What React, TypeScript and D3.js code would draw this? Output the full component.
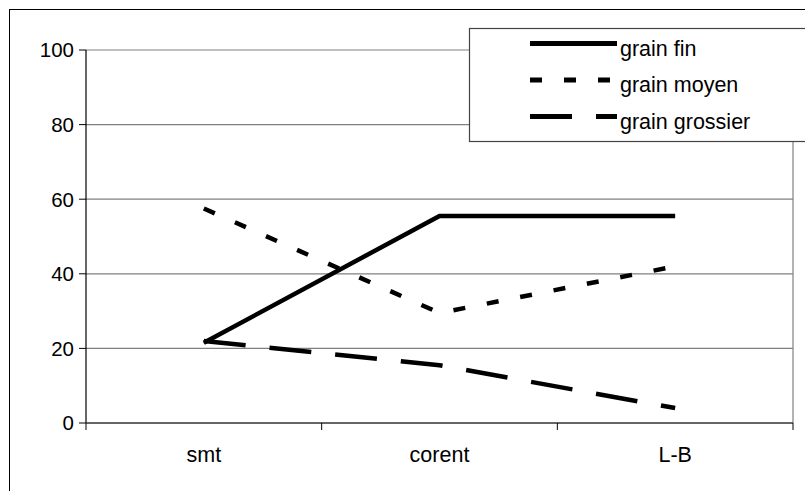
import React from "react";
import * as d3 from "d3";

const categories = ["smt", "corent", "L-B"];
const seriesNames = ["grain fin", "grain moyen", "grain grossier"];
const grainFin = [21.5, 55.5, 55.5];
const grainMoyen = [57.5, 29.5, 42];
const grainGrossier = [22, 15.5, 4];
const yTicks = [0, 20, 40, 60, 80, 100];

const W = 805;
const H = 491;
const plot = { left: 86, right: 793, top: 50, bottom: 423 };
const font = "'Liberation Sans', Arial, sans-serif";

// dash styles per series
const dashes = ["none", "12 22", "42 24"];

const App = () => {
  const x = d3
    .scaleBand()
    .domain(categories)
    .range([plot.left, plot.right]);
  const y = d3.scaleLinear().domain([0, 100]).range([plot.bottom, plot.top]);

  const series = [grainFin, grainMoyen, grainGrossier];
  const line = d3
    .line<number>()
    .x((_, i) => (x(categories[i]) as number) + x.bandwidth() / 2)
    .y((d) => y(d));

  // category boundaries for x ticks
  const xTickPos = [...categories.map((c) => x(c) as number), plot.right];

  return (
    <svg
      width={W}
      height={H}
      style={{ position: "absolute", left: 0, top: 0, background: "#fff" }}
    >
      {/* outer frame */}
      <rect x={9.5} y={9.5} width={W} height={H} fill="#fff" stroke="#000" strokeWidth={1} />

      {/* grid */}
      {yTicks.slice(1).map((t) => (
        <line key={t} x1={plot.left} x2={plot.right} y1={y(t)} y2={y(t)} stroke="#808080" strokeWidth={1.2} />
      ))}
      <line x1={plot.right} x2={plot.right} y1={plot.top} y2={plot.bottom} stroke="#808080" strokeWidth={1.2} />

      {/* y axis */}
      <line x1={plot.left} x2={plot.left} y1={plot.top} y2={plot.bottom} stroke="#000" strokeWidth={1.2} />
      {yTicks.map((t) => (
        <g key={t}>
          <line x1={plot.left - 7} x2={plot.left} y1={y(t)} y2={y(t)} stroke="#000" />
          <text x={plot.left - 12} y={y(t)} dy="0.36em" textAnchor="end" fontFamily={font} fontSize={20.5} fill="#000">
            {t}
          </text>
        </g>
      ))}

      {/* x axis */}
      <line x1={plot.left} x2={plot.right} y1={plot.bottom} y2={plot.bottom} stroke="#333" strokeWidth={1.5} />
      {xTickPos.map((p, i) => (
        <line key={i} x1={p} x2={p} y1={plot.bottom} y2={plot.bottom + 7} stroke="#000" />
      ))}
      {categories.map((c) => (
        <text
          key={c}
          x={(x(c) as number) + x.bandwidth() / 2}
          y={plot.bottom + 39}
          textAnchor="middle"
          fontFamily={font}
          fontSize={21.5}
          fill="#000"
        >
          {c}
        </text>
      ))}

      {/* series */}
      {series.map((s, i) => (
        <path
          key={seriesNames[i]}
          d={line(s) || ""}
          fill="none"
          stroke="#000"
          strokeWidth={4.5}
          strokeDasharray={dashes[i]}
          strokeLinejoin="miter"
        />
      ))}

      {/* legend */}
      <rect x={469.5} y={28.5} width={400} height={113} fill="#fff" stroke="#444" strokeWidth={1.2} />
      {seriesNames.map((n, i) => {
        const ly = 43.5 + i * 36.5;
        return (
          <g key={n}>
            <line x1={530} x2={617} y1={ly} y2={ly} stroke="#000" strokeWidth={5} strokeDasharray={dashes[i]} />
            <text x={620} y={ly + 12} fontFamily={font} fontSize={21.5} fill="#000">
              {n}
            </text>
          </g>
        );
      })}
    </svg>
  );
};

export default App;
